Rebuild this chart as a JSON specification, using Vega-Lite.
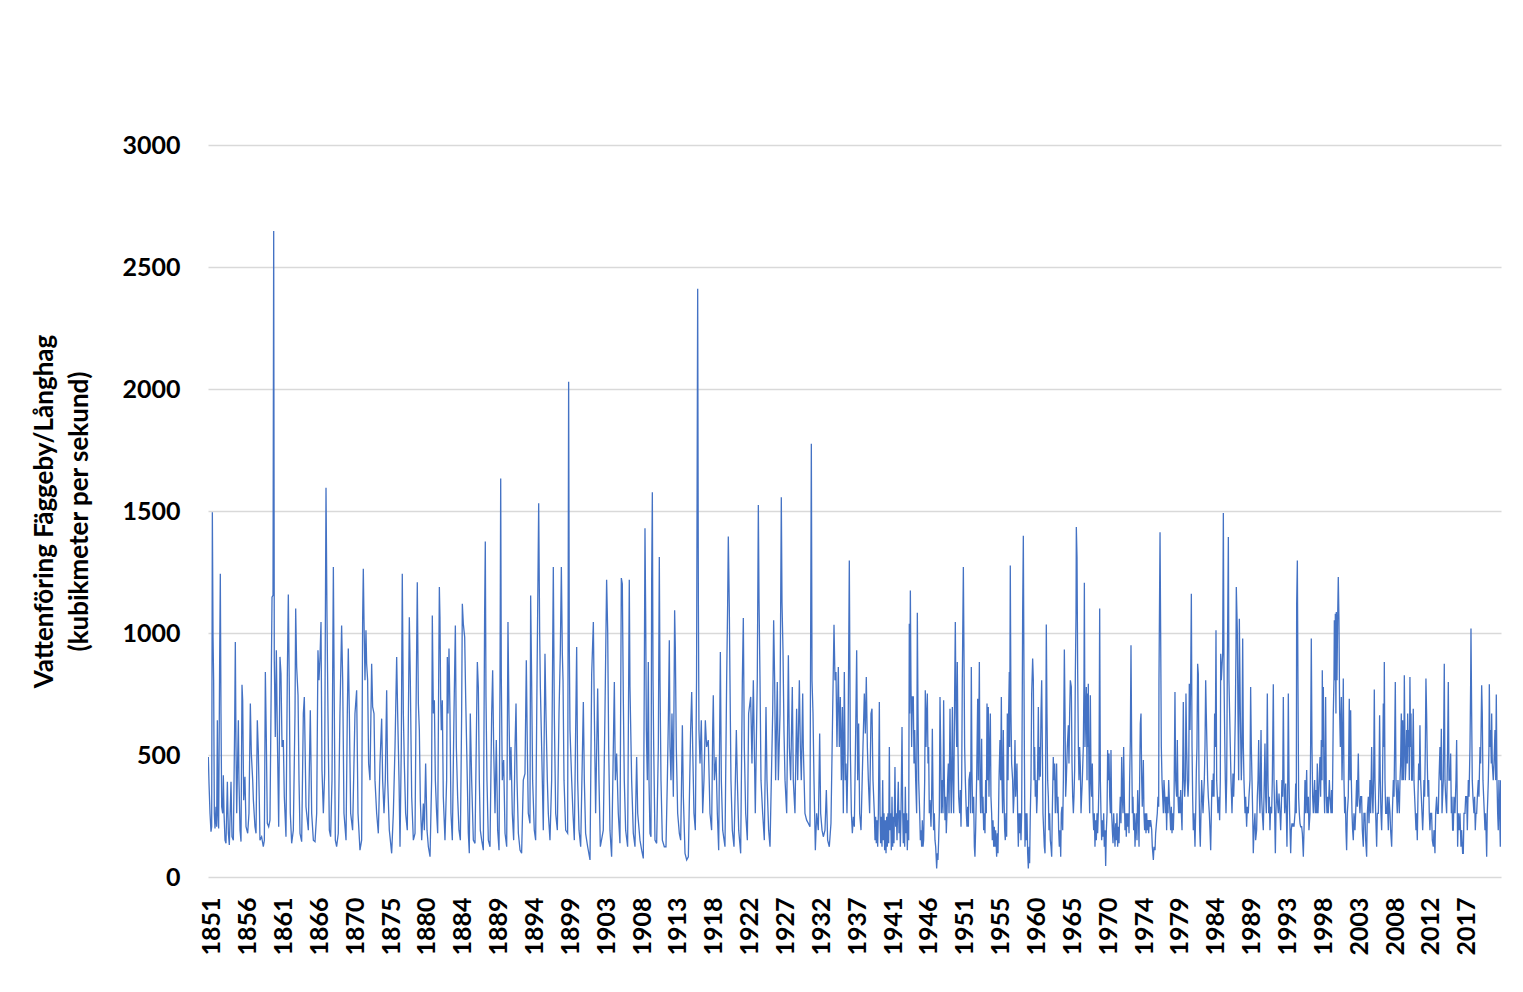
{
"$schema": "https://vega.github.io/schema/vega-lite/v6.json",
"width": 1293,
"height": 732,
"autosize": {"type": "none"},
"padding": {"left": 208, "top": 145, "right": 22, "bottom": 115},
"background": "white",
"config": {"view": {"stroke": null}, "font": "Lato"},
"data": {"values": [
{"t":1851.59,"v":492},{"t":1851.68,"v":383},{"t":1851.81,"v":261},{"t":1851.94,"v":186},{"t":1852.03,"v":206},{"t":1852.12,"v":1495},{"t":1852.21,"v":983},{"t":1852.29,"v":806},{"t":1852.38,"v":261},{"t":1852.47,"v":199},{"t":1852.60,"v":288},{"t":1852.69,"v":206},{"t":1852.78,"v":642},{"t":1852.86,"v":261},{"t":1852.95,"v":199},{"t":1853.08,"v":874},{"t":1853.17,"v":1243},{"t":1853.26,"v":670},{"t":1853.35,"v":288},{"t":1853.48,"v":261},{"t":1853.57,"v":417},{"t":1853.66,"v":261},{"t":1853.79,"v":151},{"t":1853.92,"v":138},{"t":1854.10,"v":390},{"t":1854.23,"v":179},{"t":1854.36,"v":131},{"t":1854.58,"v":390},{"t":1854.71,"v":165},{"t":1854.89,"v":151},{"t":1855.06,"v":615},{"t":1855.15,"v":963},{"t":1855.24,"v":533},{"t":1855.33,"v":261},{"t":1855.55,"v":642},{"t":1855.63,"v":397},{"t":1855.77,"v":192},{"t":1855.90,"v":145},{"t":1856.03,"v":788},{"t":1856.12,"v":724},{"t":1856.25,"v":315},{"t":1856.42,"v":411},{"t":1856.56,"v":206},{"t":1856.78,"v":179},{"t":1856.95,"v":261},{"t":1857.13,"v":711},{"t":1857.26,"v":506},{"t":1857.44,"v":397},{"t":1857.53,"v":315},{"t":1857.74,"v":206},{"t":1857.88,"v":179},{"t":1858.05,"v":642},{"t":1858.18,"v":520},{"t":1858.32,"v":301},{"t":1858.40,"v":151},{"t":1858.62,"v":165},{"t":1858.84,"v":124},{"t":1858.98,"v":151},{"t":1859.11,"v":840},{"t":1859.24,"v":561},{"t":1859.37,"v":220},{"t":1859.55,"v":206},{"t":1859.72,"v":233},{"t":1859.99,"v":1147},{"t":1860.12,"v":1154},{"t":1860.21,"v":2648},{"t":1860.29,"v":888},{"t":1860.42,"v":574},{"t":1860.56,"v":929},{"t":1860.69,"v":588},{"t":1860.87,"v":206},{"t":1861.04,"v":902},{"t":1861.17,"v":833},{"t":1861.31,"v":533},{"t":1861.48,"v":561},{"t":1861.61,"v":329},{"t":1861.83,"v":165},{"t":1862.01,"v":833},{"t":1862.14,"v":1158},{"t":1862.27,"v":779},{"t":1862.40,"v":261},{"t":1862.58,"v":138},{"t":1862.80,"v":192},{"t":1863.02,"v":670},{"t":1863.11,"v":1100},{"t":1863.24,"v":861},{"t":1863.42,"v":745},{"t":1863.55,"v":397},{"t":1863.68,"v":179},{"t":1863.90,"v":145},{"t":1864.12,"v":670},{"t":1864.25,"v":738},{"t":1864.47,"v":288},{"t":1864.78,"v":192},{"t":1865.04,"v":683},{"t":1865.22,"v":261},{"t":1865.44,"v":151},{"t":1865.66,"v":145},{"t":1865.88,"v":261},{"t":1866.05,"v":929},{"t":1866.18,"v":806},{"t":1866.32,"v":902},{"t":1866.45,"v":1045},{"t":1866.58,"v":438},{"t":1866.76,"v":261},{"t":1866.93,"v":424},{"t":1867.11,"v":1595},{"t":1867.24,"v":1065},{"t":1867.37,"v":670},{"t":1867.55,"v":192},{"t":1867.72,"v":165},{"t":1867.90,"v":397},{"t":1868.08,"v":1270},{"t":1868.21,"v":670},{"t":1868.34,"v":151},{"t":1868.51,"v":124},{"t":1868.73,"v":179},{"t":1868.95,"v":670},{"t":1869.17,"v":1031},{"t":1869.31,"v":806},{"t":1869.48,"v":261},{"t":1869.75,"v":151},{"t":1869.92,"v":670},{"t":1870.05,"v":936},{"t":1870.19,"v":670},{"t":1870.36,"v":261},{"t":1870.62,"v":192},{"t":1870.93,"v":670},{"t":1871.15,"v":765},{"t":1871.33,"v":261},{"t":1871.59,"v":110},{"t":1871.81,"v":151},{"t":1871.94,"v":1052},{"t":1872.03,"v":1263},{"t":1872.12,"v":1052},{"t":1872.25,"v":806},{"t":1872.38,"v":1011},{"t":1872.47,"v":874},{"t":1872.60,"v":806},{"t":1872.73,"v":465},{"t":1872.91,"v":397},{"t":1873.13,"v":874},{"t":1873.26,"v":697},{"t":1873.44,"v":670},{"t":1873.57,"v":397},{"t":1873.79,"v":261},{"t":1874.01,"v":179},{"t":1874.23,"v":465},{"t":1874.45,"v":649},{"t":1874.58,"v":397},{"t":1874.76,"v":261},{"t":1874.93,"v":397},{"t":1875.11,"v":765},{"t":1875.24,"v":397},{"t":1875.46,"v":192},{"t":1875.77,"v":97},{"t":1875.99,"v":261},{"t":1876.21,"v":533},{"t":1876.43,"v":902},{"t":1876.56,"v":670},{"t":1876.74,"v":397},{"t":1876.87,"v":124},{"t":1877.04,"v":533},{"t":1877.17,"v":1243},{"t":1877.31,"v":670},{"t":1877.44,"v":465},{"t":1877.61,"v":261},{"t":1877.83,"v":192},{"t":1878.10,"v":1065},{"t":1878.23,"v":806},{"t":1878.41,"v":329},{"t":1878.63,"v":151},{"t":1878.85,"v":179},{"t":1878.98,"v":670},{"t":1879.15,"v":1208},
{"t":1879.29,"v":711},{"t":1879.42,"v":602},{"t":1879.55,"v":315},{"t":1879.73,"v":151},{"t":1879.95,"v":301},{"t":1880.08,"v":192},{"t":1880.25,"v":465},{"t":1880.43,"v":192},{"t":1880.61,"v":124},{"t":1880.83,"v":83},{"t":1881.04,"v":397},{"t":1881.13,"v":1072},{"t":1881.27,"v":670},{"t":1881.40,"v":724},{"t":1881.53,"v":397},{"t":1881.70,"v":261},{"t":1881.84,"v":179},{"t":1881.97,"v":806},{"t":1882.06,"v":1188},{"t":1882.14,"v":1065},{"t":1882.23,"v":738},{"t":1882.32,"v":602},{"t":1882.45,"v":724},{"t":1882.58,"v":329},{"t":1882.80,"v":151},{"t":1883.02,"v":397},{"t":1883.11,"v":902},{"t":1883.20,"v":670},{"t":1883.33,"v":936},{"t":1883.46,"v":670},{"t":1883.59,"v":261},{"t":1883.77,"v":151},{"t":1883.99,"v":670},{"t":1884.17,"v":1031},{"t":1884.30,"v":533},{"t":1884.47,"v":329},{"t":1884.65,"v":192},{"t":1884.83,"v":151},{"t":1885.00,"v":670},{"t":1885.09,"v":1120},{"t":1885.22,"v":1038},{"t":1885.40,"v":983},{"t":1885.53,"v":738},{"t":1885.66,"v":533},{"t":1885.88,"v":179},{"t":1886.01,"v":97},{"t":1886.14,"v":670},{"t":1886.32,"v":397},{"t":1886.54,"v":151},{"t":1886.76,"v":138},{"t":1886.98,"v":670},{"t":1887.07,"v":881},{"t":1887.20,"v":779},{"t":1887.33,"v":397},{"t":1887.46,"v":192},{"t":1887.64,"v":151},{"t":1887.86,"v":110},{"t":1888.03,"v":1079},{"t":1888.12,"v":1375},{"t":1888.21,"v":738},{"t":1888.34,"v":397},{"t":1888.52,"v":151},{"t":1888.74,"v":124},{"t":1888.96,"v":670},{"t":1889.09,"v":847},{"t":1889.22,"v":533},{"t":1889.40,"v":261},{"t":1889.57,"v":561},{"t":1889.75,"v":192},{"t":1889.93,"v":110},{"t":1890.06,"v":806},{"t":1890.15,"v":1633},{"t":1890.23,"v":820},{"t":1890.36,"v":397},{"t":1890.54,"v":479},{"t":1890.72,"v":179},{"t":1890.94,"v":124},{"t":1891.11,"v":1045},{"t":1891.24,"v":670},{"t":1891.38,"v":397},{"t":1891.51,"v":533},{"t":1891.68,"v":261},{"t":1891.86,"v":151},{"t":1892.04,"v":533},{"t":1892.17,"v":711},{"t":1892.30,"v":397},{"t":1892.48,"v":179},{"t":1892.70,"v":110},{"t":1892.91,"v":97},{"t":1893.13,"v":397},{"t":1893.35,"v":424},{"t":1893.53,"v":888},{"t":1893.66,"v":533},{"t":1893.79,"v":261},{"t":1894.01,"v":220},{"t":1894.10,"v":1154},{"t":1894.23,"v":806},{"t":1894.36,"v":397},{"t":1894.58,"v":192},{"t":1894.76,"v":151},{"t":1894.94,"v":806},{"t":1895.16,"v":1532},{"t":1895.29,"v":997},{"t":1895.38,"v":779},{"t":1895.55,"v":533},{"t":1895.77,"v":192},{"t":1895.99,"v":915},{"t":1896.12,"v":670},{"t":1896.30,"v":397},{"t":1896.43,"v":261},{"t":1896.65,"v":151},{"t":1896.87,"v":397},{"t":1897.09,"v":1270},{"t":1897.22,"v":670},{"t":1897.40,"v":261},{"t":1897.62,"v":192},{"t":1897.84,"v":670},{"t":1898.01,"v":915},{"t":1898.15,"v":1270},{"t":1898.28,"v":915},{"t":1898.37,"v":806},{"t":1898.50,"v":397},{"t":1898.72,"v":192},{"t":1898.98,"v":179},{"t":1899.11,"v":2030},{"t":1899.20,"v":943},{"t":1899.29,"v":602},{"t":1899.51,"v":397},{"t":1899.68,"v":261},{"t":1899.86,"v":151},{"t":1900.17,"v":943},{"t":1900.30,"v":397},{"t":1900.48,"v":192},{"t":1900.70,"v":124},{"t":1901.05,"v":717},{"t":1901.18,"v":397},{"t":1901.35,"v":179},{"t":1901.62,"v":124},{"t":1901.93,"v":70},{"t":1902.15,"v":833},{"t":1902.37,"v":1045},{"t":1902.50,"v":670},{"t":1902.67,"v":261},{"t":1902.94,"v":772},{"t":1903.11,"v":397},{"t":1903.29,"v":124},{"t":1903.68,"v":192},{"t":1903.90,"v":670},{"t":1904.12,"v":1218},{"t":1904.26,"v":1011},{"t":1904.39,"v":533},{"t":1904.56,"v":192},{"t":1904.78,"v":83},{"t":1905.14,"v":799},{"t":1905.27,"v":397},{"t":1905.44,"v":506},{"t":1905.66,"v":261},{"t":1905.88,"v":138},{"t":1906.06,"v":1225},{"t":1906.19,"v":1202},{"t":1906.32,"v":738},{"t":1906.45,"v":397},{"t":1906.63,"v":192},{"t":1906.89,"v":124},{"t":1907.11,"v":1218},
{"t":1907.20,"v":779},{"t":1907.42,"v":397},{"t":1907.64,"v":179},{"t":1907.86,"v":124},{"t":1908.08,"v":492},{"t":1908.22,"v":261},{"t":1908.52,"v":151},{"t":1908.74,"v":110},{"t":1908.96,"v":76},{"t":1909.09,"v":806},{"t":1909.18,"v":1429},{"t":1909.27,"v":1079},{"t":1909.36,"v":602},{"t":1909.49,"v":397},{"t":1909.62,"v":881},{"t":1909.71,"v":397},{"t":1909.84,"v":179},{"t":1909.97,"v":165},{"t":1910.06,"v":1215},{"t":1910.15,"v":1577},{"t":1910.24,"v":806},{"t":1910.33,"v":533},{"t":1910.50,"v":151},{"t":1910.72,"v":138},{"t":1910.94,"v":533},{"t":1911.07,"v":1311},{"t":1911.16,"v":806},{"t":1911.29,"v":397},{"t":1911.47,"v":151},{"t":1911.73,"v":124},{"t":1911.95,"v":124},{"t":1912.13,"v":397},{"t":1912.26,"v":642},{"t":1912.39,"v":970},{"t":1912.48,"v":533},{"t":1912.61,"v":397},{"t":1912.74,"v":670},{"t":1912.92,"v":329},{"t":1913.09,"v":1093},{"t":1913.18,"v":943},{"t":1913.31,"v":533},{"t":1913.49,"v":261},{"t":1913.71,"v":179},{"t":1913.89,"v":151},{"t":1914.11,"v":622},{"t":1914.24,"v":329},{"t":1914.46,"v":97},{"t":1914.68,"v":70},{"t":1914.90,"v":83},{"t":1915.20,"v":602},{"t":1915.34,"v":758},{"t":1915.47,"v":533},{"t":1915.64,"v":261},{"t":1915.82,"v":192},{"t":1915.98,"v":806},{"t":1916.13,"v":2411},{"t":1916.22,"v":1134},{"t":1916.30,"v":602},{"t":1916.44,"v":465},{"t":1916.61,"v":642},{"t":1916.79,"v":261},{"t":1916.96,"v":397},{"t":1917.14,"v":642},{"t":1917.31,"v":533},{"t":1917.53,"v":561},{"t":1917.75,"v":261},{"t":1917.97,"v":192},{"t":1918.11,"v":602},{"t":1918.19,"v":745},{"t":1918.33,"v":397},{"t":1918.55,"v":492},{"t":1918.72,"v":261},{"t":1918.90,"v":110},{"t":1919.12,"v":922},{"t":1919.25,"v":397},{"t":1919.43,"v":192},{"t":1919.73,"v":124},{"t":1919.95,"v":806},{"t":1920.08,"v":1113},{"t":1920.17,"v":1395},{"t":1920.30,"v":1106},{"t":1920.39,"v":806},{"t":1920.52,"v":397},{"t":1920.70,"v":192},{"t":1920.92,"v":124},{"t":1921.10,"v":397},{"t":1921.23,"v":602},{"t":1921.36,"v":397},{"t":1921.54,"v":192},{"t":1921.80,"v":97},{"t":1922.02,"v":806},{"t":1922.15,"v":1061},{"t":1922.28,"v":533},{"t":1922.46,"v":261},{"t":1922.68,"v":151},{"t":1922.85,"v":670},{"t":1923.12,"v":738},{"t":1923.29,"v":465},{"t":1923.47,"v":806},{"t":1923.60,"v":533},{"t":1923.73,"v":261},{"t":1923.99,"v":806},{"t":1924.13,"v":1525},{"t":1924.22,"v":1134},{"t":1924.35,"v":806},{"t":1924.48,"v":397},{"t":1924.70,"v":261},{"t":1924.92,"v":151},{"t":1925.14,"v":697},{"t":1925.27,"v":397},{"t":1925.49,"v":192},{"t":1925.67,"v":124},{"t":1926.02,"v":670},{"t":1926.15,"v":1052},{"t":1926.28,"v":806},{"t":1926.41,"v":397},{"t":1926.63,"v":799},{"t":1926.77,"v":397},{"t":1926.99,"v":670},{"t":1927.16,"v":1556},{"t":1927.25,"v":1127},{"t":1927.38,"v":929},{"t":1927.51,"v":602},{"t":1927.65,"v":397},{"t":1927.87,"v":261},{"t":1928.09,"v":909},{"t":1928.22,"v":533},{"t":1928.39,"v":397},{"t":1928.61,"v":779},{"t":1928.74,"v":397},{"t":1928.96,"v":261},{"t":1929.18,"v":690},{"t":1929.32,"v":397},{"t":1929.54,"v":806},{"t":1929.67,"v":533},{"t":1929.80,"v":397},{"t":1929.98,"v":752},{"t":1930.06,"v":533},{"t":1930.28,"v":261},{"t":1930.50,"v":233},{"t":1930.72,"v":220},{"t":1930.94,"v":206},{"t":1931.12,"v":1776},{"t":1931.21,"v":806},{"t":1931.34,"v":670},{"t":1931.47,"v":397},{"t":1931.65,"v":110},{"t":1931.82,"v":261},{"t":1932.04,"v":192},{"t":1932.22,"v":588},{"t":1932.35,"v":261},{"t":1932.53,"v":192},{"t":1932.70,"v":165},{"t":1932.92,"v":192},{"t":1933.10,"v":356},{"t":1933.27,"v":151},{"t":1933.49,"v":124},{"t":1933.71,"v":220},{"t":1933.93,"v":670},{"t":1934.11,"v":1034},{"t":1934.24,"v":806},{"t":1934.37,"v":840},{"t":1934.50,"v":533},{"t":1934.68,"v":861},{"t":1934.81,"v":533},{"t":1934.94,"v":738},{"t":1935.08,"v":397},{"t":1935.21,"v":697},{"t":1935.34,"v":261},{"t":1935.47,"v":840},{"t":1935.60,"v":397},
{"t":1935.69,"v":465},{"t":1935.82,"v":261},{"t":1935.96,"v":533},{"t":1936.13,"v":1297},{"t":1936.26,"v":533},{"t":1936.40,"v":261},{"t":1936.53,"v":179},{"t":1936.66,"v":247},{"t":1936.79,"v":206},{"t":1936.97,"v":602},{"t":1937.10,"v":929},{"t":1937.23,"v":397},{"t":1937.36,"v":629},{"t":1937.49,"v":261},{"t":1937.67,"v":192},{"t":1937.93,"v":533},{"t":1938.11,"v":752},{"t":1938.24,"v":588},{"t":1938.37,"v":820},{"t":1938.51,"v":533},{"t":1938.64,"v":397},{"t":1938.81,"v":261},{"t":1938.99,"v":670},{"t":1939.12,"v":690},{"t":1939.25,"v":397},{"t":1939.43,"v":261},{"t":1939.52,"v":151},{"t":1939.60,"v":247},{"t":1939.69,"v":138},{"t":1939.78,"v":233},{"t":1939.87,"v":124},{"t":1939.96,"v":261},{"t":1940.09,"v":717},{"t":1940.18,"v":261},{"t":1940.26,"v":138},{"t":1940.35,"v":247},{"t":1940.44,"v":124},{"t":1940.53,"v":397},{"t":1940.62,"v":151},{"t":1940.70,"v":261},{"t":1940.79,"v":110},{"t":1940.88,"v":233},{"t":1940.97,"v":97},{"t":1941.06,"v":247},{"t":1941.14,"v":124},{"t":1941.23,"v":261},{"t":1941.32,"v":138},{"t":1941.41,"v":533},{"t":1941.49,"v":192},{"t":1941.58,"v":261},{"t":1941.67,"v":110},{"t":1941.76,"v":329},{"t":1941.85,"v":124},{"t":1941.93,"v":247},{"t":1942.02,"v":138},{"t":1942.15,"v":451},{"t":1942.24,"v":206},{"t":1942.33,"v":261},{"t":1942.42,"v":151},{"t":1942.51,"v":288},{"t":1942.59,"v":390},{"t":1942.68,"v":179},{"t":1942.77,"v":274},{"t":1942.86,"v":124},{"t":1942.95,"v":261},{"t":1943.08,"v":615},{"t":1943.17,"v":261},{"t":1943.25,"v":138},{"t":1943.34,"v":261},{"t":1943.43,"v":124},{"t":1943.52,"v":370},{"t":1943.60,"v":179},{"t":1943.69,"v":261},{"t":1943.78,"v":110},{"t":1943.87,"v":233},{"t":1943.96,"v":151},{"t":1944.04,"v":1038},{"t":1944.09,"v":670},{"t":1944.18,"v":1174},{"t":1944.26,"v":792},{"t":1944.35,"v":533},{"t":1944.44,"v":738},{"t":1944.57,"v":738},{"t":1944.66,"v":465},{"t":1944.75,"v":602},{"t":1944.88,"v":397},{"t":1945.01,"v":261},{"t":1945.10,"v":1083},{"t":1945.19,"v":670},{"t":1945.28,"v":397},{"t":1945.41,"v":261},{"t":1945.50,"v":151},{"t":1945.58,"v":192},{"t":1945.67,"v":124},{"t":1945.76,"v":233},{"t":1945.85,"v":124},{"t":1945.93,"v":151},{"t":1946.07,"v":397},{"t":1946.15,"v":765},{"t":1946.24,"v":533},{"t":1946.33,"v":670},{"t":1946.42,"v":752},{"t":1946.51,"v":465},{"t":1946.59,"v":533},{"t":1946.68,"v":261},{"t":1946.77,"v":315},{"t":1946.90,"v":206},{"t":1946.99,"v":329},{"t":1947.08,"v":608},{"t":1947.17,"v":329},{"t":1947.25,"v":192},{"t":1947.34,"v":261},{"t":1947.43,"v":151},{"t":1947.52,"v":124},{"t":1947.65,"v":35},{"t":1947.74,"v":97},{"t":1947.82,"v":70},{"t":1947.91,"v":151},{"t":1948.00,"v":261},{"t":1948.09,"v":738},{"t":1948.18,"v":533},{"t":1948.26,"v":261},{"t":1948.40,"v":397},{"t":1948.48,"v":261},{"t":1948.57,"v":724},{"t":1948.66,"v":397},{"t":1948.75,"v":233},{"t":1948.84,"v":329},{"t":1948.92,"v":179},{"t":1949.01,"v":261},{"t":1949.10,"v":397},{"t":1949.19,"v":465},{"t":1949.28,"v":261},{"t":1949.41,"v":690},{"t":1949.50,"v":397},{"t":1949.58,"v":261},{"t":1949.72,"v":697},{"t":1949.80,"v":397},{"t":1949.89,"v":261},{"t":1950.02,"v":752},{"t":1950.11,"v":1045},{"t":1950.20,"v":670},{"t":1950.29,"v":533},{"t":1950.37,"v":881},{"t":1950.46,"v":533},{"t":1950.55,"v":329},{"t":1950.68,"v":261},{"t":1950.77,"v":356},{"t":1950.86,"v":206},{"t":1950.95,"v":397},{"t":1951.03,"v":806},{"t":1951.17,"v":1270},{"t":1951.25,"v":929},{"t":1951.34,"v":533},{"t":1951.43,"v":397},{"t":1951.56,"v":261},{"t":1951.65,"v":206},{"t":1951.74,"v":288},{"t":1951.83,"v":206},{"t":1951.91,"v":397},{"t":1952.05,"v":431},{"t":1952.13,"v":261},{"t":1952.22,"v":861},{"t":1952.31,"v":424},{"t":1952.40,"v":261},{"t":1952.53,"v":329},{"t":1952.62,"v":124},{"t":1952.70,"v":83},{"t":1952.79,"v":192},{"t":1952.92,"v":397},{"t":1953.06,"v":731},{"t":1953.14,"v":397},{"t":1953.28,"v":881},{"t":1953.36,"v":397},{"t":1953.45,"v":261},{"t":1953.58,"v":567},{"t":1953.67,"v":261},{"t":1953.76,"v":329},{"t":1953.85,"v":192},{"t":1953.94,"v":261},{"t":1954.02,"v":179},{"t":1954.11,"v":397},{"t":1954.20,"v":261},{"t":1954.29,"v":711},{"t":1954.38,"v":397},{"t":1954.46,"v":697},{"t":1954.55,"v":329},{"t":1954.64,"v":533},{"t":1954.73,"v":670},{"t":1954.81,"v":329},{"t":1954.90,"v":261},{"t":1954.99,"v":151},{"t":1955.08,"v":233},{"t":1955.17,"v":124},{"t":1955.25,"v":206},{"t":1955.34,"v":124},{"t":1955.43,"v":192},{"t":1955.56,"v":83},{"t":1955.65,"v":179},{"t":1955.74,"v":97},{"t":1955.87,"v":397},{"t":1956.00,"v":561},{"t":1956.09,"v":397},{"t":1956.18,"v":738},{"t":1956.26,"v":397},{"t":1956.35,"v":261},{"t":1956.44,"v":602},{"t":1956.53,"v":329},{"t":1956.62,"v":192},{"t":1956.70,"v":151},{"t":1956.79,"v":261},{"t":1956.88,"v":165},{"t":1956.97,"v":670},{"t":1957.06,"v":397},{"t":1957.14,"v":670},{"t":1957.23,"v":840},{"t":1957.28,"v":533},{"t":1957.36,"v":1277},{"t":1957.45,"v":670},{"t":1957.54,"v":465},{"t":1957.67,"v":397},{"t":1957.76,"v":261},{"t":1957.85,"v":329},{"t":1957.98,"v":561},{"t":1958.07,"v":329},{"t":1958.16,"v":397},{"t":1958.24,"v":465},{"t":1958.33,"v":261},{"t":1958.42,"v":124},{"t":1958.51,"v":261},{"t":1958.60,"v":179},{"t":1958.68,"v":261},{"t":1958.77,"v":151},{"t":1958.86,"v":261},{"t":1958.95,"v":806},{"t":1958.99,"v":1079},{"t":1959.08,"v":1399},{"t":1959.17,"v":806},{"t":1959.21,"v":561},{"t":1959.30,"v":124},{"t":1959.39,"v":261},{"t":1959.47,"v":151},{"t":1959.56,"v":261},{"t":1959.65,"v":97},{"t":1959.74,"v":35},{"t":1959.83,"v":124},{"t":1959.91,"v":56},{"t":1960.00,"v":261},{"t":1960.09,"v":397},{"t":1960.18,"v":752},{"t":1960.31,"v":895},{"t":1960.40,"v":806},{"t":1960.49,"v":397},{"t":1960.57,"v":533},{"t":1960.66,"v":329},{"t":1960.75,"v":397},{"t":1960.84,"v":261},{"t":1960.92,"v":329},{"t":1961.06,"v":697},{"t":1961.15,"v":397},{"t":1961.23,"v":533},{"t":1961.32,"v":411},{"t":1961.41,"v":670},{"t":1961.50,"v":806},{"t":1961.59,"v":533},{"t":1961.67,"v":261},{"t":1961.76,"v":192},{"t":1961.85,"v":124},{"t":1961.94,"v":97},{"t":1962.02,"v":397},{"t":1962.11,"v":1035},{"t":1962.20,"v":670},{"t":1962.29,"v":397},{"t":1962.38,"v":329},{"t":1962.46,"v":192},{"t":1962.55,"v":261},{"t":1962.64,"v":151},{"t":1962.73,"v":124},{"t":1962.82,"v":83},{"t":1962.90,"v":261},{"t":1963.03,"v":492},{"t":1963.12,"v":397},{"t":1963.21,"v":465},{"t":1963.30,"v":261},{"t":1963.39,"v":370},{"t":1963.47,"v":465},{"t":1963.56,"v":261},{"t":1963.65,"v":329},{"t":1963.74,"v":192},{"t":1963.83,"v":124},{"t":1963.92,"v":192},
{"t":1964.01,"v":83},{"t":1964.09,"v":261},{"t":1964.18,"v":288},{"t":1964.27,"v":192},{"t":1964.36,"v":397},{"t":1964.49,"v":932},{"t":1964.58,"v":670},{"t":1964.66,"v":329},{"t":1964.75,"v":397},{"t":1964.88,"v":533},{"t":1965.02,"v":622},{"t":1965.10,"v":465},{"t":1965.19,"v":670},{"t":1965.28,"v":806},{"t":1965.41,"v":779},{"t":1965.50,"v":465},{"t":1965.59,"v":329},{"t":1965.68,"v":261},{"t":1965.76,"v":329},{"t":1965.85,"v":438},{"t":1965.94,"v":833},{"t":1966.03,"v":1079},{"t":1966.07,"v":1434},{"t":1966.16,"v":1311},{"t":1966.25,"v":833},{"t":1966.34,"v":533},{"t":1966.42,"v":397},{"t":1966.51,"v":533},{"t":1966.60,"v":451},{"t":1966.69,"v":261},{"t":1966.77,"v":329},{"t":1966.86,"v":397},{"t":1966.99,"v":533},{"t":1967.08,"v":806},{"t":1967.13,"v":1206},{"t":1967.21,"v":533},{"t":1967.30,"v":670},{"t":1967.39,"v":779},{"t":1967.48,"v":397},{"t":1967.52,"v":752},{"t":1967.61,"v":533},{"t":1967.65,"v":792},{"t":1967.74,"v":397},{"t":1967.83,"v":261},{"t":1967.92,"v":745},{"t":1968.01,"v":397},{"t":1968.09,"v":329},{"t":1968.18,"v":465},{"t":1968.27,"v":261},{"t":1968.36,"v":192},{"t":1968.44,"v":261},{"t":1968.53,"v":124},{"t":1968.62,"v":233},{"t":1968.71,"v":151},{"t":1968.80,"v":261},{"t":1968.88,"v":179},{"t":1968.97,"v":261},{"t":1969.06,"v":397},{"t":1969.15,"v":1100},{"t":1969.24,"v":397},{"t":1969.32,"v":261},{"t":1969.41,"v":151},{"t":1969.50,"v":233},{"t":1969.59,"v":165},{"t":1969.68,"v":261},{"t":1969.76,"v":124},{"t":1969.85,"v":192},{"t":1969.94,"v":45},{"t":1970.03,"v":192},{"t":1970.12,"v":261},{"t":1970.20,"v":520},{"t":1970.29,"v":397},{"t":1970.38,"v":506},{"t":1970.47,"v":329},{"t":1970.56,"v":261},{"t":1970.64,"v":520},{"t":1970.73,"v":261},{"t":1970.82,"v":192},{"t":1970.91,"v":138},{"t":1971.00,"v":261},{"t":1971.08,"v":192},{"t":1971.17,"v":124},{"t":1971.26,"v":220},{"t":1971.35,"v":151},{"t":1971.43,"v":261},{"t":1971.52,"v":124},{"t":1971.61,"v":206},{"t":1971.70,"v":138},{"t":1971.79,"v":261},{"t":1971.87,"v":329},{"t":1971.96,"v":220},{"t":1972.05,"v":492},{"t":1972.14,"v":329},{"t":1972.23,"v":261},{"t":1972.31,"v":533},{"t":1972.40,"v":329},{"t":1972.49,"v":192},{"t":1972.58,"v":261},{"t":1972.66,"v":165},{"t":1972.75,"v":261},{"t":1972.84,"v":206},{"t":1972.93,"v":261},{"t":1973.02,"v":179},{"t":1973.10,"v":397},{"t":1973.19,"v":554},{"t":1973.28,"v":950},{"t":1973.37,"v":533},{"t":1973.46,"v":261},{"t":1973.54,"v":329},{"t":1973.63,"v":192},{"t":1973.72,"v":261},{"t":1973.81,"v":124},{"t":1973.90,"v":206},{"t":1973.98,"v":261},{"t":1974.07,"v":151},{"t":1974.16,"v":356},{"t":1974.25,"v":261},{"t":1974.34,"v":124},{"t":1974.42,"v":397},{"t":1974.51,"v":629},{"t":1974.60,"v":670},{"t":1974.69,"v":397},{"t":1974.77,"v":288},{"t":1974.91,"v":479},{"t":1974.99,"v":261},{"t":1975.08,"v":192},{"t":1975.17,"v":261},{"t":1975.26,"v":179},{"t":1975.35,"v":261},{"t":1975.43,"v":192},{"t":1975.52,"v":233},{"t":1975.61,"v":179},{"t":1975.70,"v":233},{"t":1975.79,"v":206},{"t":1975.87,"v":233},{"t":1976.01,"v":192},{"t":1976.09,"v":124},{"t":1976.23,"v":70},{"t":1976.31,"v":124},{"t":1976.45,"v":110},{"t":1976.53,"v":179},{"t":1976.67,"v":233},{"t":1976.75,"v":261},{"t":1976.84,"v":329},{"t":1976.93,"v":288},{"t":1976.97,"v":806},{"t":1977.11,"v":1413},{"t":1977.19,"v":1011},{"t":1977.28,"v":533},{"t":1977.37,"v":397},{"t":1977.46,"v":329},{"t":1977.55,"v":261},{"t":1977.63,"v":397},{"t":1977.72,"v":342},{"t":1977.81,"v":261},{"t":1977.90,"v":329},{"t":1977.98,"v":192},{"t":1978.07,"v":329},{"t":1978.16,"v":261},{"t":1978.25,"v":397},{"t":1978.34,"v":315},{"t":1978.42,"v":261},{"t":1978.51,"v":192},{"t":1978.60,"v":288},{"t":1978.69,"v":179},{"t":1978.78,"v":261},{"t":1978.86,"v":192},{"t":1978.95,"v":288},{"t":1979.08,"v":758},{"t":1979.17,"v":397},{"t":1979.30,"v":329},{"t":1979.39,"v":561},{"t":1979.48,"v":329},{"t":1979.57,"v":261},{"t":1979.66,"v":329},{"t":1979.74,"v":261},{"t":1979.83,"v":356},{"t":1979.92,"v":261},{"t":1980.01,"v":192},{"t":1980.09,"v":397},{"t":1980.18,"v":717},{"t":1980.27,"v":397},{"t":1980.36,"v":329},{"t":1980.45,"v":397},{"t":1980.53,"v":752},{"t":1980.62,"v":533},{"t":1980.71,"v":397},{"t":1980.80,"v":329},{"t":1980.89,"v":397},{"t":1980.97,"v":792},{"t":1981.06,"v":602},{"t":1981.15,"v":806},{"t":1981.24,"v":1161},{"t":1981.33,"v":533},{"t":1981.41,"v":329},{"t":1981.50,"v":192},{"t":1981.59,"v":261},{"t":1981.72,"v":124},{"t":1981.81,"v":261},{"t":1981.90,"v":438},{"t":1981.98,"v":533},{"t":1982.07,"v":874},{"t":1982.16,"v":833},{"t":1982.25,"v":397},{"t":1982.34,"v":192},{"t":1982.42,"v":124},{"t":1982.51,"v":261},{"t":1982.60,"v":397},{"t":1982.69,"v":329},{"t":1982.78,"v":261},{"t":1982.86,"v":329},{"t":1982.95,"v":397},{"t":1983.04,"v":533},{"t":1983.13,"v":806},{"t":1983.21,"v":670},{"t":1983.30,"v":533},{"t":1983.39,"v":397},{"t":1983.48,"v":329},{"t":1983.61,"v":261},{"t":1983.70,"v":192},{"t":1983.79,"v":110},{"t":1983.88,"v":261},{"t":1983.96,"v":397},{"t":1984.05,"v":329},{"t":1984.14,"v":424},{"t":1984.23,"v":329},{"t":1984.31,"v":670},{"t":1984.40,"v":533},{"t":1984.49,"v":1011},{"t":1984.58,"v":397},{"t":1984.67,"v":329},{"t":1984.75,"v":261},{"t":1984.89,"v":329},{"t":1984.97,"v":233},{"t":1985.06,"v":397},{"t":1985.11,"v":915},{"t":1985.19,"v":806},{"t":1985.28,"v":861},{"t":1985.37,"v":915},{"t":1985.46,"v":1492},{"t":1985.55,"v":806},{"t":1985.63,"v":602},{"t":1985.72,"v":397},{"t":1985.81,"v":261},{"t":1985.90,"v":397},{"t":1985.99,"v":874},{"t":1986.12,"v":1393},{"t":1986.20,"v":806},{"t":1986.29,"v":670},{"t":1986.38,"v":533},{"t":1986.47,"v":397},{"t":1986.60,"v":261},{"t":1986.73,"v":424},{"t":1986.82,"v":329},{"t":1986.91,"v":424},{"t":1987.04,"v":670},{"t":1987.13,"v":943},{"t":1987.17,"v":1188},{"t":1987.30,"v":1011},{"t":1987.39,"v":670},{"t":1987.48,"v":397},{"t":1987.57,"v":1058},{"t":1987.70,"v":670},{"t":1987.83,"v":397},{"t":1987.92,"v":533},{"t":1988.01,"v":977},{"t":1988.10,"v":533},{"t":1988.18,"v":397},{"t":1988.32,"v":261},{"t":1988.40,"v":329},{"t":1988.53,"v":206},{"t":1988.62,"v":288},{"t":1988.75,"v":261},{"t":1988.84,"v":329},{"t":1988.97,"v":397},{"t":1989.06,"v":779},{"t":1989.15,"v":533},{"t":1989.24,"v":397},{"t":1989.33,"v":261},{"t":1989.41,"v":97},{"t":1989.50,"v":192},{"t":1989.63,"v":261},{"t":1989.72,"v":151},{"t":1989.85,"v":192},{"t":1989.94,"v":329},{"t":1990.03,"v":397},{"t":1990.12,"v":561},{"t":1990.21,"v":329},{"t":1990.29,"v":261},{"t":1990.43,"v":602},{"t":1990.51,"v":329},{"t":1990.60,"v":261},{"t":1990.73,"v":192},{"t":1990.82,"v":329},{"t":1990.95,"v":547},{"t":1991.04,"v":329},{"t":1991.13,"v":261},{"t":1991.26,"v":752},{"t":1991.35,"v":397},{"t":1991.44,"v":261},{"t":1991.52,"v":329},{"t":1991.61,"v":192},{"t":1991.70,"v":288},{"t":1991.83,"v":261},{"t":1991.92,"v":397},{"t":1992.05,"v":790},{"t":1992.14,"v":397},{"t":1992.23,"v":261},{"t":1992.32,"v":97},{"t":1992.40,"v":261},{"t":1992.49,"v":397},{"t":1992.58,"v":315},{"t":1992.71,"v":261},{"t":1992.80,"v":342},
{"t":1992.93,"v":261},{"t":1993.02,"v":192},{"t":1993.11,"v":288},{"t":1993.19,"v":397},{"t":1993.28,"v":329},{"t":1993.37,"v":738},{"t":1993.46,"v":397},{"t":1993.55,"v":261},{"t":1993.68,"v":383},{"t":1993.77,"v":261},{"t":1993.85,"v":124},{"t":1993.94,"v":329},{"t":1994.03,"v":752},{"t":1994.12,"v":397},{"t":1994.20,"v":261},{"t":1994.34,"v":97},{"t":1994.42,"v":192},{"t":1994.51,"v":220},{"t":1994.60,"v":206},{"t":1994.69,"v":220},{"t":1994.78,"v":206},{"t":1994.91,"v":261},{"t":1995.00,"v":383},{"t":1995.08,"v":261},{"t":1995.13,"v":1120},{"t":1995.22,"v":1297},{"t":1995.30,"v":806},{"t":1995.39,"v":329},{"t":1995.48,"v":261},{"t":1995.57,"v":220},{"t":1995.66,"v":206},{"t":1995.79,"v":206},{"t":1995.88,"v":179},{"t":1996.01,"v":83},{"t":1996.10,"v":192},{"t":1996.23,"v":397},{"t":1996.31,"v":261},{"t":1996.45,"v":438},{"t":1996.53,"v":261},{"t":1996.67,"v":329},{"t":1996.75,"v":192},{"t":1996.89,"v":261},{"t":1996.97,"v":533},{"t":1997.06,"v":977},{"t":1997.15,"v":533},{"t":1997.24,"v":329},{"t":1997.33,"v":261},{"t":1997.41,"v":329},{"t":1997.50,"v":397},{"t":1997.59,"v":261},{"t":1997.68,"v":356},{"t":1997.77,"v":261},{"t":1997.85,"v":465},{"t":1997.94,"v":261},{"t":1998.03,"v":329},{"t":1998.12,"v":424},{"t":1998.21,"v":492},{"t":1998.29,"v":329},{"t":1998.38,"v":561},{"t":1998.47,"v":397},{"t":1998.51,"v":847},{"t":1998.60,"v":533},{"t":1998.65,"v":779},{"t":1998.73,"v":397},{"t":1998.82,"v":261},{"t":1998.95,"v":738},{"t":1999.04,"v":329},{"t":1999.13,"v":261},{"t":1999.22,"v":329},{"t":1999.30,"v":261},{"t":1999.44,"v":397},{"t":1999.52,"v":329},{"t":1999.66,"v":261},{"t":1999.74,"v":356},{"t":1999.83,"v":261},{"t":1999.96,"v":670},{"t":2000.05,"v":806},{"t":2000.10,"v":1052},{"t":2000.18,"v":806},{"t":2000.23,"v":1079},{"t":2000.31,"v":670},{"t":2000.36,"v":1086},{"t":2000.45,"v":806},{"t":2000.53,"v":1052},{"t":2000.62,"v":1229},{"t":2000.71,"v":1052},{"t":2000.80,"v":670},{"t":2000.89,"v":533},{"t":2001.02,"v":738},{"t":2001.11,"v":397},{"t":2001.19,"v":533},{"t":2001.28,"v":813},{"t":2001.37,"v":397},{"t":2001.46,"v":261},{"t":2001.55,"v":329},{"t":2001.63,"v":192},{"t":2001.72,"v":110},{"t":2001.81,"v":261},{"t":2001.94,"v":329},{"t":2002.07,"v":731},{"t":2002.16,"v":397},{"t":2002.25,"v":683},{"t":2002.34,"v":397},{"t":2002.43,"v":261},{"t":2002.51,"v":192},{"t":2002.60,"v":151},{"t":2002.69,"v":261},{"t":2002.82,"v":192},{"t":2002.91,"v":261},{"t":2003.04,"v":397},{"t":2003.13,"v":288},{"t":2003.26,"v":506},{"t":2003.35,"v":329},{"t":2003.48,"v":261},{"t":2003.57,"v":329},{"t":2003.70,"v":329},{"t":2003.79,"v":192},{"t":2003.92,"v":124},{"t":2004.01,"v":261},{"t":2004.14,"v":261},{"t":2004.23,"v":151},{"t":2004.36,"v":83},{"t":2004.45,"v":261},{"t":2004.58,"v":329},{"t":2004.67,"v":220},{"t":2004.80,"v":397},{"t":2004.89,"v":261},{"t":2005.02,"v":533},{"t":2005.11,"v":329},{"t":2005.19,"v":261},{"t":2005.28,"v":397},{"t":2005.37,"v":768},{"t":2005.46,"v":397},{"t":2005.55,"v":261},{"t":2005.68,"v":124},{"t":2005.77,"v":261},{"t":2005.90,"v":261},{"t":2005.99,"v":397},{"t":2006.07,"v":663},{"t":2006.16,"v":397},{"t":2006.25,"v":261},{"t":2006.34,"v":192},{"t":2006.43,"v":329},{"t":2006.56,"v":711},{"t":2006.65,"v":533},{"t":2006.69,"v":881},{"t":2006.78,"v":397},{"t":2006.87,"v":261},{"t":2007.00,"v":261},{"t":2007.08,"v":329},{"t":2007.22,"v":192},{"t":2007.30,"v":329},{"t":2007.44,"v":261},{"t":2007.52,"v":192},{"t":2007.66,"v":124},{"t":2007.75,"v":261},{"t":2007.88,"v":397},{"t":2007.97,"v":329},{"t":2008.05,"v":533},{"t":2008.14,"v":799},{"t":2008.23,"v":397},{"t":2008.32,"v":329},{"t":2008.40,"v":261},{"t":2008.49,"v":397},{"t":2008.58,"v":329},{"t":2008.67,"v":261},{"t":2008.76,"v":397},{"t":2008.84,"v":465},{"t":2008.93,"v":670},{"t":2009.02,"v":397},{"t":2009.11,"v":642},{"t":2009.20,"v":397},{"t":2009.28,"v":533},{"t":2009.33,"v":827},{"t":2009.42,"v":533},{"t":2009.46,"v":397},{"t":2009.55,"v":465},{"t":2009.63,"v":602},{"t":2009.72,"v":465},{"t":2009.77,"v":670},{"t":2009.85,"v":533},{"t":2009.90,"v":602},{"t":2009.99,"v":397},{"t":2010.07,"v":820},{"t":2010.16,"v":533},{"t":2010.21,"v":670},{"t":2010.29,"v":397},{"t":2010.38,"v":397},{"t":2010.51,"v":690},{"t":2010.60,"v":397},{"t":2010.69,"v":329},{"t":2010.78,"v":261},{"t":2010.87,"v":192},{"t":2010.95,"v":261},{"t":2011.04,"v":151},{"t":2011.13,"v":329},{"t":2011.22,"v":465},{"t":2011.31,"v":397},{"t":2011.39,"v":622},{"t":2011.48,"v":397},{"t":2011.57,"v":329},{"t":2011.66,"v":261},{"t":2011.75,"v":192},{"t":2011.83,"v":261},{"t":2011.92,"v":397},{"t":2012.01,"v":329},{"t":2012.10,"v":533},{"t":2012.18,"v":813},{"t":2012.27,"v":670},{"t":2012.36,"v":465},{"t":2012.45,"v":329},{"t":2012.54,"v":397},{"t":2012.62,"v":261},{"t":2012.71,"v":192},{"t":2012.80,"v":261},{"t":2012.93,"v":261},{"t":2013.02,"v":151},{"t":2013.15,"v":124},{"t":2013.24,"v":192},{"t":2013.37,"v":97},{"t":2013.46,"v":261},{"t":2013.59,"v":329},{"t":2013.68,"v":261},{"t":2013.81,"v":261},{"t":2013.90,"v":397},{"t":2014.03,"v":533},{"t":2014.12,"v":397},{"t":2014.21,"v":608},{"t":2014.30,"v":261},{"t":2014.38,"v":329},{"t":2014.47,"v":397},{"t":2014.60,"v":874},{"t":2014.69,"v":397},{"t":2014.78,"v":329},{"t":2014.91,"v":261},{"t":2015.04,"v":533},{"t":2015.13,"v":799},{"t":2015.22,"v":397},{"t":2015.35,"v":397},{"t":2015.44,"v":506},{"t":2015.53,"v":261},{"t":2015.61,"v":329},{"t":2015.70,"v":192},{"t":2015.79,"v":192},{"t":2015.88,"v":329},{"t":2016.01,"v":261},{"t":2016.14,"v":397},{"t":2016.23,"v":561},{"t":2016.36,"v":124},{"t":2016.45,"v":261},{"t":2016.58,"v":192},{"t":2016.67,"v":261},{"t":2016.80,"v":124},{"t":2016.89,"v":192},{"t":2017.02,"v":97},{"t":2017.11,"v":97},{"t":2017.20,"v":261},{"t":2017.33,"v":261},{"t":2017.42,"v":329},{"t":2017.55,"v":329},{"t":2017.64,"v":192},{"t":2017.77,"v":397},{"t":2017.86,"v":329},{"t":2017.99,"v":533},{"t":2018.08,"v":806},{"t":2018.12,"v":1018},{"t":2018.21,"v":670},{"t":2018.29,"v":397},{"t":2018.38,"v":329},{"t":2018.51,"v":261},{"t":2018.60,"v":329},{"t":2018.69,"v":192},{"t":2018.78,"v":261},{"t":2018.87,"v":261},{"t":2018.96,"v":329},{"t":2019.09,"v":397},{"t":2019.17,"v":329},{"t":2019.31,"v":533},{"t":2019.39,"v":465},{"t":2019.53,"v":786},{"t":2019.61,"v":670},{"t":2019.70,"v":397},{"t":2019.79,"v":329},{"t":2019.88,"v":261},{"t":2019.97,"v":192},{"t":2020.05,"v":261},{"t":2020.19,"v":83},{"t":2020.27,"v":261},{"t":2020.41,"v":397},{"t":2020.49,"v":533},{"t":2020.54,"v":790},{"t":2020.63,"v":533},{"t":2020.71,"v":602},{"t":2020.80,"v":465},{"t":2020.85,"v":670},{"t":2020.93,"v":465},{"t":2021.06,"v":397},{"t":2021.15,"v":465},{"t":2021.29,"v":602},{"t":2021.37,"v":397},{"t":2021.46,"v":748},{"t":2021.55,"v":397},{"t":2021.64,"v":261},{"t":2021.72,"v":192},{"t":2021.81,"v":397},{"t":2021.90,"v":261},{"t":2021.99,"v":124},{"t":2022.03,"v":397}
]},
"mark": {"type": "line", "color": "#4472C4", "strokeWidth": 1.3, "clip": true},
"encoding": {
"x": {"field": "t", "type": "quantitative",
"scale": {"domain": [1851.546, 2022.08], "nice": false, "zero": false},
"axis": {"values": [1852.034,1856.764,1861.493,1866.223,1870.952,1875.682,1880.412,1885.141,1889.871,1894.6,1899.33,1904.06,1908.789,1913.519,1918.248,1922.978,1927.708,1932.437,1937.167,1941.896,1946.626,1951.356,1956.085,1960.815,1965.544,1970.274,1975.004,1979.733,1984.463,1989.192,1993.922,1998.652,2003.381,2008.111,2012.84,2017.57],
"labelExpr": "['1851','1856','1861','1866','1870','1875','1880','1884','1889','1894','1899','1903','1908','1913','1918','1922','1927','1932','1937','1941','1946','1951','1955','1960','1965','1970','1974','1979','1984','1989','1993','1998','2003','2008','2012','2017'][round((datum.value-1852.034)/4.7296)]",
"labelAngle": -90, "labelAlign": "right", "labelBaseline": "middle",
"labelFont": "Lato", "labelFontWeight": "bold", "labelFontSize": 25, "labelColor": "#000000",
"labelPadding": 20, "labelOverlap": false, "labelBound": false, "labelFlush": false,
"ticks": false, "domain": false, "grid": false, "title": null}},
"y": {"field": "v", "type": "quantitative",
"scale": {"domain": [0, 3000], "nice": false},
"axis": {"values": [0,500,1000,1500,2000,2500,3000], "format": "d",
"grid": true, "gridColor": "#d9d9d9", "gridWidth": 1.6,
"domain": false, "ticks": false,
"labelFont": "Lato", "labelFontWeight": "bold", "labelFontSize": 25, "labelColor": "#000000", "labelPadding": 28,
"title": ["Vattenföring Fäggeby/Långhag", "(kubikmeter per sekund)"],
"titleFont": "Lato", "titleFontWeight": "bold", "titleFontSize": 26, "titleColor": "#000000",
"titleAngle": -90, "titleAlign": "center", "titleBaseline": "alphabetic", "titleLineHeight": 35,
"titleX": -156, "titleY": 366}}
}
}
